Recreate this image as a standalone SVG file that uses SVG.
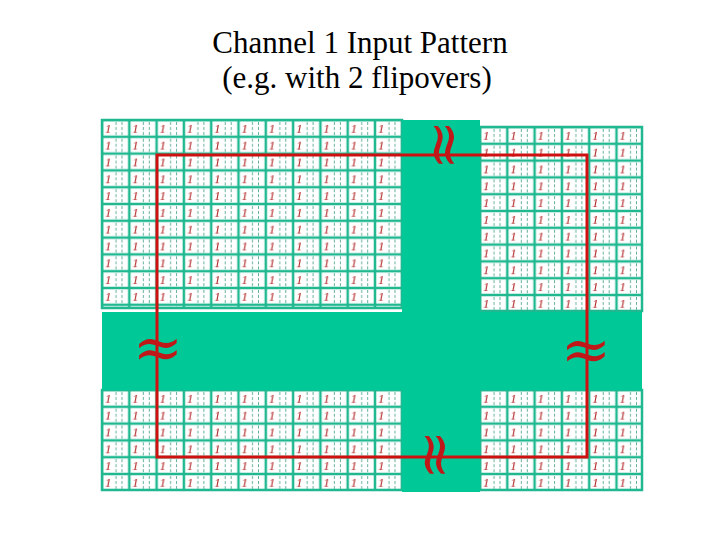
<svg xmlns="http://www.w3.org/2000/svg" width="720" height="540" viewBox="0 0 720 540">
<style>
.t{font-family:"Liberation Serif",serif;font-size:31px;fill:#000;text-anchor:middle}
.band{fill:#00c896}
.red{stroke:#d01010;stroke-width:3;fill:none}
.sq{font-family:"DejaVu Serif",serif;font-size:60px;fill:#c01818;text-anchor:middle}
</style>
<defs>
<g id="cell">
<rect x="0" y="0" width="27.3" height="16.8" fill="#fff" stroke="#20b890" stroke-width="2.5"/>
<line x1="14" y1="2" x2="14" y2="16" stroke="#3a9a80" stroke-width="0.8" stroke-dasharray="3,2"/>
<line x1="20" y1="2" x2="20" y2="16" stroke="#3a9a80" stroke-width="0.8" stroke-dasharray="3,2"/>
<text x="3" y="13" font-family="Liberation Serif,serif" font-style="italic" font-size="13" fill="#b02020">1</text>
</g>
<pattern id="pA" patternUnits="userSpaceOnUse" x="102" y="120" width="27.3" height="16.8"><use href="#cell"/></pattern>
<pattern id="pB" patternUnits="userSpaceOnUse" x="480" y="127" width="27.3" height="16.8"><use href="#cell"/></pattern>
<pattern id="pC" patternUnits="userSpaceOnUse" x="102" y="390" width="27.3" height="16.8"><use href="#cell"/></pattern>
<pattern id="pD" patternUnits="userSpaceOnUse" x="480" y="390" width="27.3" height="16.8"><use href="#cell"/></pattern>
</defs>
<text class="t" x="360" y="53">Channel 1 Input Pattern</text>
<text class="t" x="357" y="88">(e.g. with 2 flipovers)</text>
<g id="blocks">
<rect x="102" y="120" width="300" height="188" fill="url(#pA)" stroke="#20b890" stroke-width="2.5"/>
<rect x="480" y="127" width="162" height="184" fill="url(#pB)" stroke="#20b890" stroke-width="2.5"/>
<rect x="102" y="390" width="300" height="100" fill="url(#pC)" stroke="#20b890" stroke-width="2.5"/>
<rect x="480" y="390" width="162" height="100" fill="url(#pD)" stroke="#20b890" stroke-width="2.5"/>
<rect class="band" x="102" y="312" width="540" height="78"/>
<rect class="band" x="402" y="120" width="78" height="372"/>
</g>
<g id="connectors">
<rect class="red" x="157" y="155" width="430" height="302"/>
</g>
<g id="marks">
<text class="sq" x="158" y="368">≈</text>
<text class="sq" x="586" y="370">≈</text>
<text class="sq" transform="translate(445,145) rotate(90)" x="0" y="20">≈</text>
<text class="sq" transform="translate(436,455) rotate(90)" x="0" y="20">≈</text>
</g>
</svg>
